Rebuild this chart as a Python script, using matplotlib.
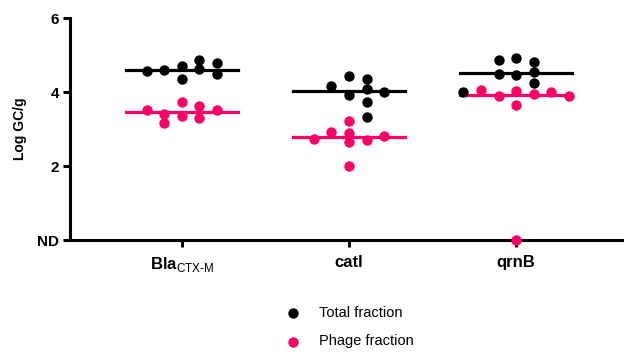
import numpy as np
import matplotlib
matplotlib.use('Agg')
import matplotlib.pyplot as plt

plt.rcParams['font.family'] = ['Liberation Sans', 'DejaVu Sans']
plt.rcParams['mathtext.fontset'] = 'custom'
plt.rcParams['mathtext.rm'] = 'Liberation Sans'
plt.rcParams['mathtext.bf'] = 'Liberation Sans:bold'

# values (Log GC/g), ND plotted as 0
genes = [r'$\mathbf{Bla}_{\mathrm{CTX\text{-}M}}$', 'catl', 'qrnB']
total_bla = [4.71, 4.61, 4.60, 4.86, 4.78, 4.49, 4.58, 4.35]
phage_bla = [3.36, 3.31, 3.72, 3.63, 3.41, 3.15, 3.51, 3.51]
total_catl = [3.92, 4.07, 3.33, 4.43, 4.34, 4.16, 3.74, 4.01]
phage_catl = [3.22, 2.90, 2.64, 2.01, 2.70, 2.93, 2.82, 2.74]
total_qrnb = [3.99, 4.93, 4.81, 4.86, 4.47, 4.53, 4.49, 4.24]
phage_qrnb = [4.04, 3.65, 0.0, 3.94, 3.90, 3.99, 4.05, 3.89]

totals = [total_bla, total_catl, total_qrnb]
phages = [phage_bla, phage_catl, phage_qrnb]

black = '#000000'
pink = '#ff0066'


def swarm_slots(values, gap=0.245):
    # put each dot in the closest column where it does not sit on another dot
    order = [0, 1, -1, 2, -2, 3, -3, 4, -4]
    placed = []
    slots = []
    for v in values:
        for k in order:
            if all(s != k or abs(v - pv) >= gap for s, pv in placed):
                break
        placed.append((k, v))
        slots.append(k)
    return np.array(slots)


fig = plt.figure(figsize=(6.24, 3.54), dpi=100)
ax = fig.add_axes([70 / 624, 114 / 354, 553 / 624, 222 / 354])

step = 0.105
half = 0.335
for i in range(3):
    x0 = i + 1
    vals = list(phages[i]) + list(totals[i])
    slots = swarm_slots(vals)
    n = len(phages[i])
    ax.scatter(x0 + slots[:n] * step, phages[i], s=56, color=pink, zorder=3,
               clip_on=False, linewidths=0)
    ax.scatter(x0 + slots[n:] * step, totals[i], s=56, color=black, zorder=3,
               clip_on=False, linewidths=0)
    ax.plot([x0 - half, x0 + half], [np.median(totals[i])] * 2, color=black, lw=2.3, zorder=2)
    ax.plot([x0 - half, x0 + half], [np.median(phages[i])] * 2, color=pink, lw=2.3, zorder=2)

ax.set_xlim(0.33, 3.64)
ax.set_ylim(0, 6)
ax.set_yticks([0, 2, 4, 6])
ax.set_yticklabels(['ND', '2', '4', '6'], fontweight='bold', fontsize=11)
ax.set_xticks([1, 2, 3])
ax.set_xticklabels(genes, fontweight='bold', fontsize=12)
ax.set_ylabel('Log GC/g', fontweight='bold', fontsize=10, labelpad=7)

for side in ['top', 'right']:
    ax.spines[side].set_visible(False)
for side in ['left', 'bottom']:
    ax.spines[side].set_linewidth(2.2)
ax.tick_params(axis='both', width=2.2, length=5, pad=3)
ax.tick_params(axis='x', pad=6)

h1 = ax.scatter([], [], s=56, color=black, linewidths=0)
h2 = ax.scatter([], [], s=56, color=pink, linewidths=0)
fig.legend([h1, h2], ['Total fraction', 'Phage fraction'], loc='upper left',
           bbox_to_anchor=(0.425, 0.173), frameon=False, fontsize=10.5,
           labelspacing=1.0, handletextpad=0.8, borderpad=0.4)

fig.savefig('out.png', dpi=100)
